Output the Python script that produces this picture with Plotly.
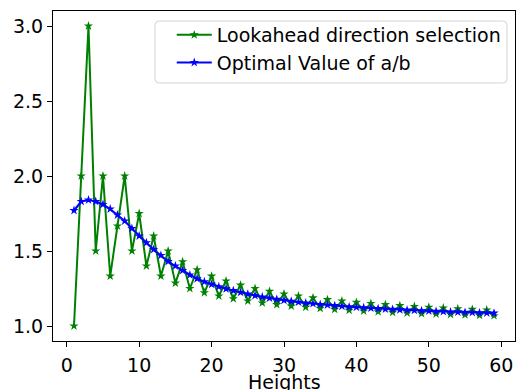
import plotly.graph_objects as go

heights = list(range(1, 60))

lookahead = [1.0, 2.0, 3.0, 1.5, 2.0, 1.333, 1.667, 2.0, 1.5, 1.75,
             1.4, 1.6, 1.333, 1.5, 1.286, 1.429, 1.25, 1.375, 1.222, 1.333,
             1.2, 1.3, 1.182, 1.273, 1.167, 1.25, 1.154, 1.231, 1.143, 1.214,
             1.133, 1.2, 1.125, 1.188, 1.118, 1.176, 1.111, 1.167, 1.105, 1.158,
             1.1, 1.15, 1.095, 1.143, 1.091, 1.136, 1.087, 1.130, 1.083, 1.125,
             1.08, 1.12, 1.077, 1.115, 1.074, 1.111, 1.071, 1.107, 1.069]

optimal = [1.77, 1.83, 1.84, 1.83, 1.81, 1.78, 1.74, 1.70, 1.65, 1.60,
           1.555, 1.51, 1.47, 1.43, 1.40, 1.37, 1.34, 1.315, 1.295, 1.278,
           1.262, 1.248, 1.236, 1.224, 1.213, 1.203, 1.194, 1.186, 1.178, 1.171,
           1.165, 1.159, 1.154, 1.149, 1.144, 1.140, 1.136, 1.132, 1.128, 1.125,
           1.122, 1.119, 1.116, 1.113, 1.111, 1.108, 1.106, 1.104, 1.102, 1.100,
           1.098, 1.096, 1.094, 1.093, 1.091, 1.090, 1.088, 1.087, 1.086]

x_ticks = [0, 10, 20, 30, 40, 50, 60]
y_ticks = [1.0, 1.5, 2.0, 2.5, 3.0]
y_tick_labels = ["1.0", "1.5", "2.0", "2.5", "3.0"]
x_title = "Heights"

FONT = "DejaVu Sans"
FS = 19

W, H = 517, 390
ML, MR, MT, MB = 53, 2, 11, 49
PW, PH = W - ML - MR, H - MT - MB

def px_to_paper(px, py):
    return (px - ML) / PW, (H - MB - py) / PH

fig = go.Figure()
fig.add_trace(go.Scatter(
    x=heights, y=lookahead, mode="lines+markers",
    name="Lookahead direction selection",
    line=dict(color="green", width=2),
    marker=dict(symbol="star", size=7, color="green"),
))
fig.add_trace(go.Scatter(
    x=heights, y=optimal, mode="lines+markers",
    name="Optimal Value of a/b",
    line=dict(color="blue", width=2),
    marker=dict(symbol="star", size=7, color="blue"),
))

axis_common = dict(
    showgrid=False, zeroline=False,
    showline=True, linecolor="black", linewidth=1, mirror=True,
    ticks="outside", ticklen=5, tickwidth=1, tickcolor="black",
    tickfont=dict(family=FONT, size=FS, color="black"),
)

# legend frame (rounded box, like matplotlib's)
x0, y0 = px_to_paper(155, 83)
x1, y1 = px_to_paper(507, 21)
rx, ry = 4 / PW, 4 / PH
path = (f"M {x0+rx},{y0} L {x1-rx},{y0} Q {x1},{y0} {x1},{y0+ry} "
        f"L {x1},{y1-ry} Q {x1},{y1} {x1-rx},{y1} "
        f"L {x0+rx},{y1} Q {x0},{y1} {x0},{y1-ry} "
        f"L {x0},{y0+ry} Q {x0},{y0} {x0+rx},{y0} Z")

_, ty = px_to_paper(0, 382)

fig.update_layout(
    width=W, height=H,
    margin=dict(l=ML, r=MR, t=MT, b=MB),
    paper_bgcolor="white", plot_bgcolor="white",
    font=dict(family=FONT, size=FS, color="black"),
    xaxis=dict(range=[-1.9, 61.9], tickvals=x_ticks, automargin=False,
               ticklabelstandoff=2, **axis_common),
    yaxis=dict(range=[0.9, 3.1], tickvals=y_ticks, ticktext=y_tick_labels,
               automargin=False, **axis_common),
    shapes=[dict(type="path", xref="paper", yref="paper", path=path,
                 fillcolor="rgba(255,255,255,0.8)",
                 line=dict(color="#d5d5d5", width=1), layer="above")],
    annotations=[dict(text=x_title, xref="paper", yref="paper", x=0.5, y=ty,
                      xanchor="center", yanchor="middle", showarrow=False,
                      font=dict(family=FONT, size=FS, color="black"))],
    legend=dict(
        x=0.980, y=0.985, xanchor="right", yanchor="top",
        bgcolor="rgba(0,0,0,0)", borderwidth=0,
        font=dict(family=FONT, size=FS, color="black"),
        itemwidth=35, tracegroupgap=0,
    ),
    showlegend=True,
)

fig.write_html("out.html", config={"displayModeBar": False})

with open("out.html", "r", encoding="utf-8") as f:
    html = f.read()
html = html.replace("<head>", "<head><style>html,body{margin:0;padding:0;overflow:hidden;}</style>", 1)
with open("out.html", "w", encoding="utf-8") as f:
    f.write(html)
